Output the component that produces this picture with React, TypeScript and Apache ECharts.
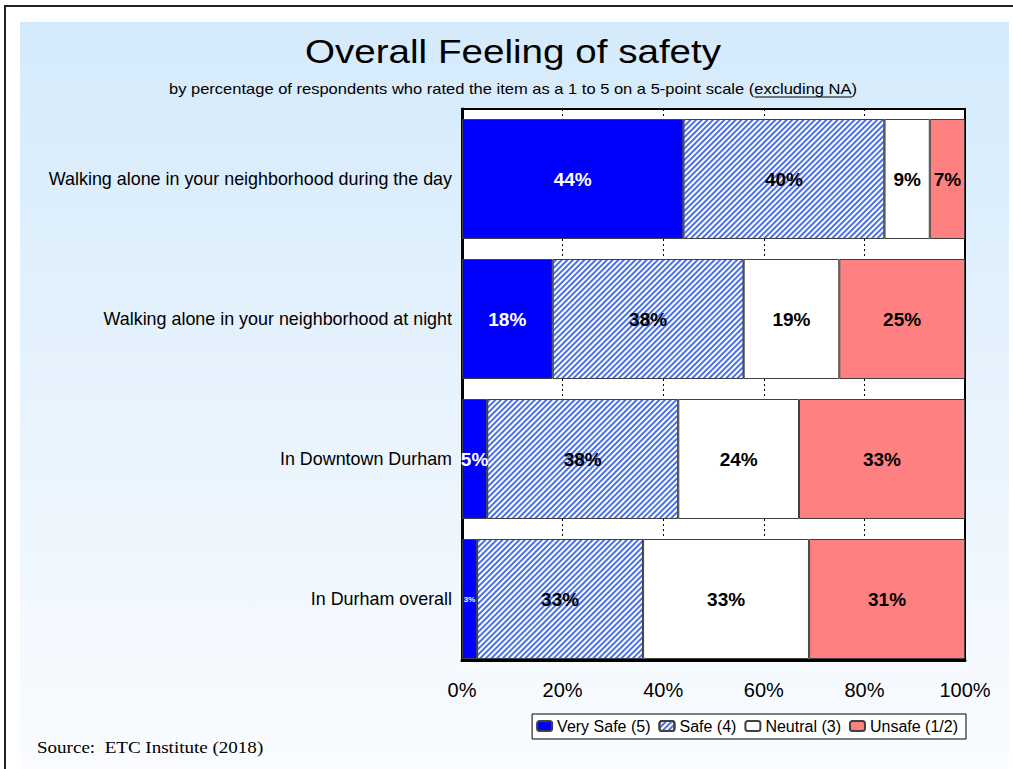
import React, { useEffect, useRef } from 'react';
import * as echarts from 'echarts';

const categories = [
  'Walking alone in your neighborhood during the day',
  'Walking alone in your neighborhood at night',
  'In Downtown Durham',
  'In Durham overall',
];
const seriesNames = ['Very Safe (5)', 'Safe (4)', 'Neutral (3)', 'Unsafe (1/2)'];
const verySafe = [44, 18, 5, 3];
const safe = [40, 38, 38, 33];
const neutral = [9, 19, 24, 33];
const unsafe = [7, 25, 33, 31];

const titleText = 'Overall Feeling of safety';
const subPre = 'by percentage of respondents who rated the item as a 1 to 5 on a 5-point scale (';
const subUnder = 'excluding NA';
const subPost = ')';
const sourceText = 'Source:\u00a0\u00a0ETC Institute (2018)';

const FONT = '"Liberation Sans", Arial, sans-serif';
const BG_TOP = [212, 234, 251];
const BG_BOTTOM = [250, 252, 255];
const BG_Y0 = 22;
const BG_H = 747;
const STRETCH = 1.18;

function bgAt(y: number) {
  const t = Math.max(0, Math.min(1, (y - BG_Y0) / BG_H));
  const c = BG_TOP.map((v, i) => Math.round(v + (BG_BOTTOM[i] - v) * t));
  return `rgb(${c[0]},${c[1]},${c[2]})`;
}

function measure(text: string, font: string) {
  const c = document.createElement('canvas').getContext('2d')!;
  c.font = font;
  return c.measureText(text).width;
}

export default function App() {
  const ref = useRef<HTMLDivElement>(null);
  useEffect(() => {
    const chart = echarts.init(ref.current!, null, { renderer: 'svg' });

    const subFont = `14px "Liberation Sans"`;
    const wPre = measure(subPre, subFont) * STRETCH;
    const wUnder = measure(subUnder, subFont) * STRETCH;
    const wAll = measure(subPre + subUnder + subPost, subFont) * STRETCH;
    const subCx = 513;
    const subY = 89;
    const ulStart = subCx - wAll / 2 + wPre;

    const border = '#404040';
    const mk = (vals: number[]) =>
      vals.map((v) => (v < 4 ? { value: v, label: { fontSize: 8 } } : v));

    const labelBase = {
      show: true,
      position: 'inside',
      fontFamily: FONT,
      fontWeight: 'bold',
      fontSize: 19,
      formatter: '{c}%',
    };

    const option: any = {
      animation: false,
      backgroundColor: 'transparent',
      grid: {
        left: 462,
        right: 48,
        top: 109,
        height: 560,
        show: true,
        backgroundColor: '#ffffff',
        borderColor: '#000000',
        borderWidth: 2,
        containLabel: false,
      },
      legend: {
        data: seriesNames,
        right: 47,
        top: 714,
        orient: 'horizontal',
        backgroundColor: '#ffffff',
        borderColor: '#000000',
        borderWidth: 1,
        padding: [4, 8, 5, 4],
        itemWidth: 15,
        itemHeight: 10,
        itemGap: 8,
        textStyle: { fontFamily: FONT, fontSize: 16, color: '#000' },
        selectedMode: false,
      },
      xAxis: {
        type: 'value',
        min: 0,
        max: 100,
        interval: 20,
        offset: -9,
        axisLine: { show: true, lineStyle: { color: '#000', width: 3 } },
        axisTick: { show: false },
        axisLabel: {
          formatter: '{value}%',
          fontFamily: FONT,
          fontSize: 20,
          color: '#000',
          margin: 20,
        },
        splitLine: { show: true, lineStyle: { color: '#000', width: 1, type: [2, 3] } },
      },
      yAxis: {
        type: 'category',
        data: categories,
        inverse: true,
        axisLine: { show: true, lineStyle: { color: '#000', width: 3 } },
        axisTick: { show: false },
        axisLabel: { fontFamily: FONT, fontSize: 17.9, color: '#000', margin: 10 },
        splitLine: { show: false },
      },
      series: [
        {
          name: seriesNames[0],
          type: 'bar',
          stack: 'all',
          barCategoryGap: '14.3%',
          data: mk(verySafe),
          itemStyle: { color: '#0000ff', borderColor: border, borderWidth: 1 },
          label: { ...labelBase, color: '#ffffff' },
        },
        {
          name: seriesNames[1],
          type: 'bar',
          stack: 'all',
          data: mk(safe),
          itemStyle: {
            color: '#ffffff',
            borderColor: border,
            borderWidth: 1,
            decal: {
              symbol: 'rect',
              color: '#4a70ea',
              dashArrayX: [1, 0],
              dashArrayY: [1.3, 1.5],
              rotation: -Math.PI / 4,
            },
          },
          label: { ...labelBase, color: '#000' },
        },
        {
          name: seriesNames[2],
          type: 'bar',
          stack: 'all',
          data: mk(neutral),
          itemStyle: { color: '#ffffff', borderColor: border, borderWidth: 1 },
          label: { ...labelBase, color: '#000' },
        },
        {
          name: seriesNames[3],
          type: 'bar',
          stack: 'all',
          data: mk(unsafe),
          itemStyle: { color: '#ff8080', borderColor: border, borderWidth: 1 },
          label: { ...labelBase, color: '#000' },
        },
      ],
      graphic: [
        {
          type: 'rect',
          z: 100,
          silent: true,
          shape: { x: 455, y: 662, width: 520, height: 10 },
          style: { fill: bgAt(667) },
        },
        {
          type: 'text',
          x: 513,
          y: 52,
          scaleX: 1.17,
          style: {
            text: titleText,
            font: `33px ${FONT}`,
            fill: '#000',
            textAlign: 'center',
            textVerticalAlign: 'middle',
          },
        },
        {
          type: 'text',
          x: subCx,
          y: subY,
          scaleX: STRETCH,
          style: {
            text: subPre + subUnder + subPost,
            font: `14px ${FONT}`,
            fill: '#000',
            textAlign: 'center',
            textVerticalAlign: 'middle',
          },
        },
        {
          type: 'line',
          shape: { x1: ulStart, y1: subY + 8, x2: ulStart + wUnder, y2: subY + 8 },
          style: { stroke: '#000', lineWidth: 1 },
        },
        {
          type: 'text',
          x: 37,
          y: 748,
          scaleX: 1.19,
          style: {
            text: sourceText,
            font: `16px "Liberation Serif", "Times New Roman", serif`,
            fill: '#000',
            textAlign: 'left',
            textVerticalAlign: 'middle',
          },
        },
      ],
    };
    chart.setOption(option);
    return () => chart.dispose();
  }, []);

  const grad = `linear-gradient(to bottom, rgb(${BG_TOP.join(',')}), rgb(${BG_BOTTOM.join(',')}))`;
  return (
    <div style={{ position: 'fixed', left: 0, top: 0, width: 1013, height: 769, background: '#fff', overflow: 'hidden' }}>
      <div style={{ position: 'absolute', left: 4, top: 5, width: 1020, height: 800, borderTop: '2px solid #222', borderLeft: '2px solid #222' }} />
      <div style={{ position: 'absolute', left: 20, top: BG_Y0, width: 989, height: BG_H, background: grad }} />
      <div ref={ref} style={{ position: 'absolute', left: 0, top: 0, width: 1013, height: 769 }} />
    </div>
  );
}
